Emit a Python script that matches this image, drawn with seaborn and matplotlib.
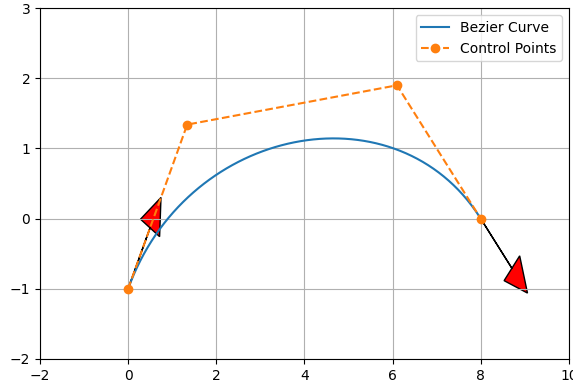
import numpy as np
import pandas as pd
import matplotlib
matplotlib.use("Agg")
import matplotlib.pyplot as plt
import seaborn as sns

# Control points of the cubic Bezier curve
ctrl_x = [0.0, 1.34, 6.1, 8.0]
ctrl_y = [-1.0, 1.34, 1.9, 0.0]

xticks = [-2, 0, 2, 4, 6, 8, 10]
yticks = [-2, -1, 0, 1, 2, 3]

# Evaluate the Bezier curve defined by the control points
t = np.linspace(0, 1, 200)
P = np.array([ctrl_x, ctrl_y])
curve = ((1 - t) ** 3)[None, :] * P[:, [0]] + (3 * (1 - t) ** 2 * t)[None, :] * P[:, [1]] \
    + (3 * (1 - t) * t ** 2)[None, :] * P[:, [2]] + (t ** 3)[None, :] * P[:, [3]]
curve_df = pd.DataFrame({"x": curve[0], "y": curve[1]})
ctrl_df = pd.DataFrame({"x": ctrl_x, "y": ctrl_y})

plt.rcParams.update(plt.rcParamsDefault)
fig = plt.figure(figsize=(5.73, 3.86), dpi=100)
ax = fig.add_axes([0.0698, 0.07, 0.923, 0.909])

sns.lineplot(data=curve_df, x="x", y="y", sort=False, ax=ax, color="C0", label="Bezier Curve")
sns.lineplot(data=ctrl_df, x="x", y="y", sort=False, ax=ax, color="C1", linestyle="--",
             marker="o", markersize=6, markeredgewidth=1, markeredgecolor="C1",
             label="Control Points")

# Tangent arrows at the start and end
d0 = np.array([ctrl_x[1] - ctrl_x[0], ctrl_y[1] - ctrl_y[0]])
d0 = d0 / np.linalg.norm(d0)
d1 = np.array([ctrl_x[3] - ctrl_x[2], ctrl_y[3] - ctrl_y[2]])
d1 = d1 / np.linalg.norm(d1)
ax.arrow(ctrl_x[0], ctrl_y[0], d0[0], d0[1], head_width=0.5, head_length=0.5, fc="red", ec="black")
ax.arrow(ctrl_x[3], ctrl_y[3], d1[0], d1[1], head_width=0.5, head_length=0.5, fc="red", ec="black")

ax.set_xlim(-2, 10)
ax.set_ylim(-2, 3)
ax.set_xticks(xticks)
ax.set_yticks(yticks)
ax.set_xlabel("")
ax.set_ylabel("")
ax.grid(True)
ax.legend(loc="upper right")

fig.savefig("out.png", dpi=100)
